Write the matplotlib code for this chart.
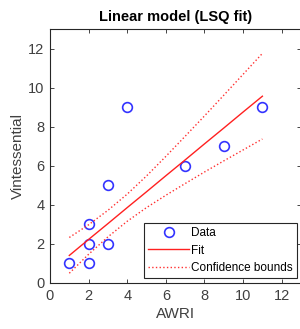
import numpy as np
import matplotlib
matplotlib.use("Agg")
import matplotlib.pyplot as plt

plt.rcParams['font.family'] = ['Liberation Sans', 'DejaVu Sans']

# data points
awri = [1, 2, 2, 3, 2, 3, 4, 7, 9, 11]
vint = [1, 1, 2, 2, 3, 5, 9, 6, 7, 9]

# fit and confidence bounds
fit_x = [1, 2, 3, 4, 5, 6, 7, 8, 9, 10, 11]
fit_y = [1.41, 2.23, 3.04, 3.86, 4.67, 5.49, 6.30, 7.12, 7.93, 8.75, 9.56]
upper_y = [2.33, 2.98, 3.72, 4.55, 5.48, 6.48, 7.51, 8.55, 9.61, 10.68, 11.75]
lower_y = [0.50, 1.47, 2.36, 3.16, 3.86, 4.49, 5.09, 5.68, 6.25, 6.81, 7.37]

ticks = [0, 2, 4, 6, 8, 10, 12]

fig = plt.figure(figsize=(3.0, 3.29), dpi=100)
ax = fig.add_axes([50/300, 46/329, 251/300, 254/329])

ax.plot(awri, vint, 'o', color='#3333ff', mfc='none', ms=7, mew=1.2, label='Data')
ax.plot(fit_x, fit_y, '-', color='#ff2020', lw=1.0, label='Fit')
ax.plot(fit_x, upper_y, ':', color='#ff3030', lw=1.0, label='Confidence bounds')
ax.plot(fit_x, lower_y, ':', color='#ff3030', lw=1.0)

ax.set_xlim(0, 13)
ax.set_ylim(0, 13)
ax.set_xticks(ticks)
ax.set_yticks(ticks)
ax.tick_params(direction='in', length=3, width=0.6, top=True, right=True,
               labelsize=10.5, colors='#262626', labelcolor='#404040', pad=4)
for s in ax.spines.values():
    s.set_color('#262626')
    s.set_linewidth(0.8)

ax.set_xlabel('AWRI', fontsize=11, color='#404040', labelpad=3)
ax.set_ylabel('Vintessential', fontsize=11, color='#404040', labelpad=2)
ax.set_title('Linear model (LSQ fit)', fontsize=10.5, fontweight='bold', pad=6)

leg = ax.legend(loc='lower right', bbox_to_anchor=(296.7/300, 51/329),
                bbox_transform=fig.transFigure, borderaxespad=0, fontsize=8.5,
                fancybox=False, framealpha=1, edgecolor='#262626',
                handlelength=3.4, handletextpad=0.2, labelspacing=0.45,
                borderpad=0.35)
leg.get_frame().set_linewidth(0.8)

fig.savefig('out.png', dpi=100)
